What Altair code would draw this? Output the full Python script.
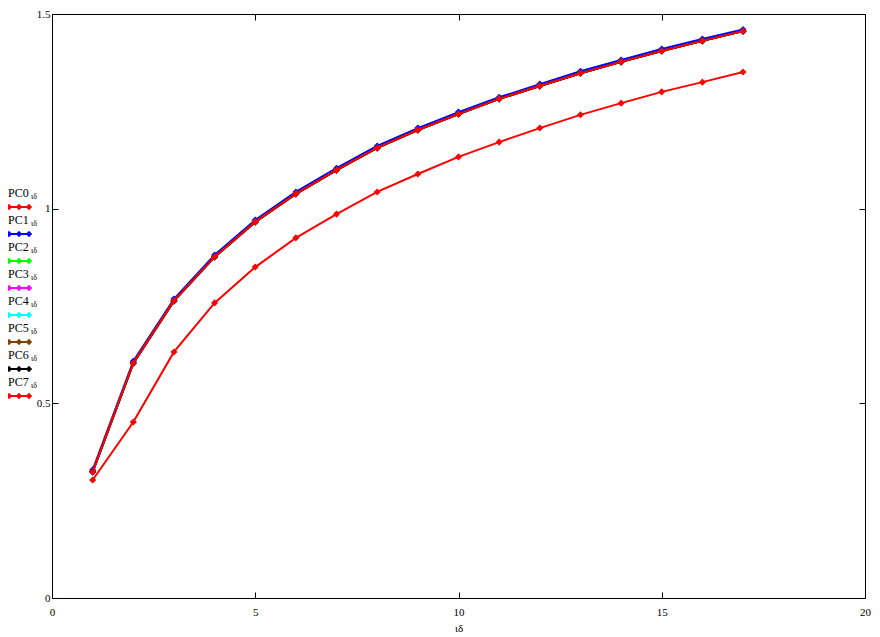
import altair as alt
import pandas as pd

# ---- data ----
series_names = ["PC0", "PC1", "PC2", "PC3", "PC4", "PC5", "PC6", "PC7"]
series_colors = ["#ff0000", "#0000ff", "#00ff00", "#ff00ff", "#00ffff", "#804000", "#000000", "#ff0000"]

idx = list(range(1, 18))
pc0 = [0.303, 0.452, 0.632, 0.758, 0.850, 0.925, 0.986, 1.043, 1.089, 1.133,
       1.171, 1.207, 1.241, 1.271, 1.300, 1.325, 1.351]
pc1 = [0.329, 0.608, 0.768, 0.881, 0.971, 1.043, 1.104, 1.161, 1.207, 1.248,
       1.286, 1.320, 1.353, 1.382, 1.410, 1.436, 1.460]
pc7 = [0.324, 0.603, 0.763, 0.876, 0.966, 1.038, 1.099, 1.156, 1.202, 1.243,
       1.282, 1.315, 1.348, 1.377, 1.405, 1.431, 1.456]
# PC2..PC6 lie hidden under PC7 in the reference
pc2 = [0.324, 0.603, 0.763, 0.876, 0.966, 1.038, 1.099, 1.156, 1.202, 1.243,
       1.282, 1.315, 1.348, 1.377, 1.405, 1.431, 1.456]
pc3 = list(pc2)
pc4 = list(pc2)
pc5 = list(pc2)
pc6 = list(pc2)

x_ticks = [0, 5, 10, 15, 20]
y_ticks = [0, 0.5, 1, 1.5]

series_values = [pc0, pc1, pc2, pc3, pc4, pc5, pc6, pc7]
rows = []
for name, vals in zip(series_names, series_values):
    for i, v in zip(idx, vals):
        rows.append({"series": name, "i": i, "v": v})
df = pd.DataFrame(rows)
leg = pd.DataFrame({"series": series_names})

FONT = "Liberation Serif"
xs = alt.Scale(domain=[0, 20], nice=False, zero=False)
ys = alt.Scale(domain=[0, 1.5], nice=False)
cs = alt.Scale(domain=series_names, range=series_colors)

x_axis = alt.Axis(
    orient="bottom", values=x_ticks, tickSize=6, offset=-6, domain=False, grid=False,
    labelPadding=8, labelFont=FONT, labelFontSize=11, labelColor="black",
    tickColor="black", labelFlush=False,
    title="ιδ", titleFont=FONT, titleFontSize=11, titleFontWeight="normal",
    titleColor="black", titlePadding=5)
y_axis = alt.Axis(
    orient="left", values=y_ticks, tickSize=6, offset=-6, domain=False, grid=False,
    labelPadding=2, labelFont=FONT, labelFontSize=11, labelColor="black",
    tickColor="black", labelFlush=False, labelExpr="'' + datum.value", title=None)

# one layer per series, drawn in order so PC7 ends on top
series_layers = []
for name in series_names:
    series_layers.append(
        alt.Chart(df).transform_filter(alt.datum.series == name).mark_line(
            strokeWidth=2,
            point=alt.OverlayMarkDef(shape="diamond", size=50, filled=True, opacity=1),
        ).encode(
            x=alt.X("i:Q", scale=xs, axis=x_axis),
            y=alt.Y("v:Q", scale=ys, axis=y_axis),
            color=alt.Color("series:N", scale=cs, legend=None),
        )
    )
main = alt.layer(*series_layers)

frame = alt.Chart(df).mark_point(opacity=0).encode(
    x=alt.X("i:Q", scale=xs, axis=alt.Axis(
        orient="top", values=x_ticks, tickSize=6, offset=-6, domain=False, grid=False,
        labels=False, tickColor="black", title=None)),
    y=alt.Y("v:Q", scale=ys, axis=alt.Axis(
        orient="right", values=y_ticks, tickSize=6, offset=-6, domain=False, grid=False,
        labels=False, tickColor="black", title=None)),
)


def leg_y(r0, r1):
    return alt.Y("series:N", scale=alt.Scale(type="point", domain=series_names,
                                             range=[r0, r1], padding=0), axis=None)


leg_text = alt.Chart(leg).mark_text(
    align="left", baseline="middle", font=FONT, fontSize=12, color="black"
).encode(x=alt.value(-44), y=leg_y(179, 368), text="series:N")

leg_sub = alt.Chart(leg).mark_text(
    align="left", baseline="middle", font=FONT, fontSize=8, color="black"
).encode(x=alt.value(-21), y=leg_y(183, 372), text=alt.value("ιδ"))

leg_rule = alt.Chart(leg).mark_rule(strokeWidth=2).encode(
    x=alt.value(-44), x2=alt.value(-21), y=leg_y(193, 382),
    color=alt.Color("series:N", scale=cs, legend=None))

leg_pts = [
    alt.Chart(leg).mark_point(shape="diamond", size=40, filled=True, opacity=1).encode(
        x=alt.value(px), y=leg_y(193, 382),
        color=alt.Color("series:N", scale=cs, legend=None))
    for px in (-43, -33, -23)
]

chart = alt.layer(main, frame, leg_text, leg_sub, leg_rule, *leg_pts).resolve_scale(
    x="independent", y="independent"
).properties(
    width=813, height=584,
    background="white",
    autosize=alt.AutoSizeParams(type="none"),
    padding={"left": 44, "top": 6, "right": 7, "bottom": 38},
).configure_view(stroke="black", strokeWidth=1)

chart.save("out.html", embed_options={"renderer": "svg", "actions": False})
